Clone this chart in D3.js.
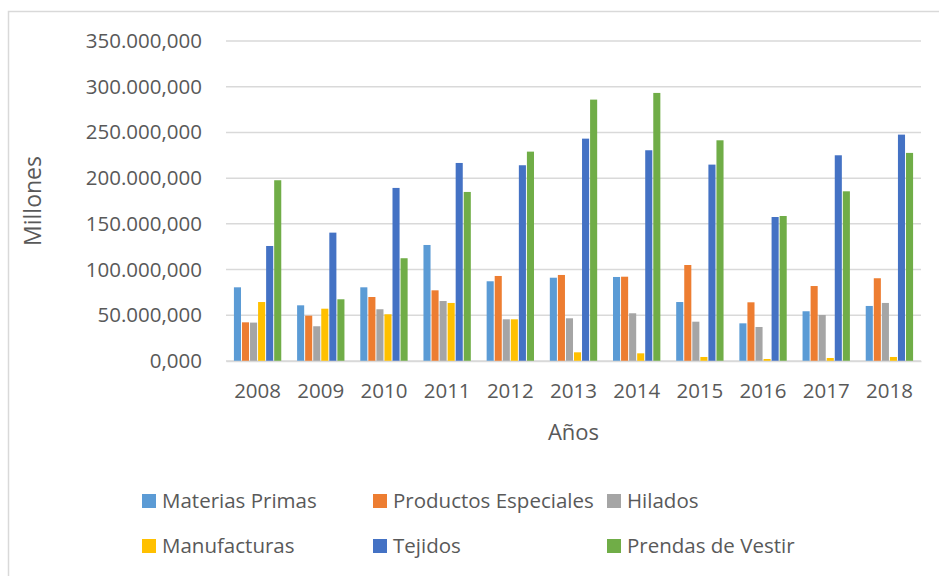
<!DOCTYPE html>
<html>
<head>
<meta charset="utf-8">
<script src="https://cdn.jsdelivr.net/npm/d3@7"></script>
<style>
  body { margin: 0; background: #fff; }
  text { font-family: "Open Sans", sans-serif; fill: #595959; }
</style>
</head>
<body>
<div id="chart"></div>
<script>
// values, in the axis unit
const years = ["2008", "2009", "2010", "2011", "2012", "2013", "2014", "2015", "2016", "2017", "2018"];
const seriesNames = ["Materias Primas", "Productos Especiales", "Hilados", "Manufacturas", "Tejidos", "Prendas de Vestir"];
const colors = ["#5b9bd5", "#ed7d31", "#a5a5a5", "#ffc000", "#4472c4", "#70ad47"];

const materiasPrimas = [80600, 60900, 80600, 126900, 87200, 91100, 91900, 64500, 41200, 54400, 60200];
const productosEspeciales = [42300, 49600, 70000, 77300, 93000, 94100, 92200, 105000, 64200, 82000, 90500];
const hilados = [42000, 38000, 56600, 65600, 45600, 46700, 52200, 43000, 37200, 50300, 63500];
const manufacturas = [64500, 57200, 51100, 63500, 45600, 9500, 8400, 4400, 2200, 3300, 4400];
const tejidos = [125800, 140400, 189300, 216600, 214100, 243200, 230500, 214800, 157500, 225000, 247600];
const prendas = [197700, 67500, 112400, 184900, 229000, 285900, 293200, 241400, 158600, 185600, 227600];

const yTicks = [0, 50000, 100000, 150000, 200000, 250000, 300000, 350000];

const seriesValues = [materiasPrimas, productosEspeciales, hilados, manufacturas, tejidos, prendas];

const W = 939, H = 576;
const margin = { top: 41, right: 18, bottom: 215, left: 226 };
const width = W - margin.left - margin.right;
const height = H - margin.top - margin.bottom;

const svg = d3.select("#chart").append("svg")
  .attr("width", W)
  .attr("height", H);

// chart frame
svg.append("rect")
  .attr("x", 8.5).attr("y", 11.5)
  .attr("width", W + 10).attr("height", H + 10)
  .attr("fill", "none")
  .attr("stroke", "#d9d9d9")
  .attr("stroke-width", 1.5);

const g = svg.append("g")
  .attr("transform", "translate(" + margin.left + "," + margin.top + ")");

const yScale = d3.scaleLinear().domain([0, 350000]).range([height, 0]);

const x0 = d3.scaleBand().domain(years).range([0, width])
  .paddingInner(0.22).paddingOuter(0.11);
const x1 = d3.scaleBand().domain(seriesNames).range([0, x0.bandwidth()])
  .padding(0.12);

const esLocale = d3.formatLocale({ decimal: ",", thousands: ".", grouping: [3], currency: ["", ""] });
const fmt = esLocale.format(",.3f");

// gridlines
g.selectAll(".grid")
  .data(yTicks)
  .enter()
  .append("line")
  .attr("class", "grid")
  .attr("x1", 0).attr("x2", width)
  .attr("y1", (d) => yScale(d)).attr("y2", (d) => yScale(d))
  .attr("stroke", "#d9d9d9")
  .attr("stroke-width", 1.5);

// y axis labels
const yAxis = d3.axisLeft(yScale).tickValues(yTicks).tickFormat(fmt).tickSize(0).tickPadding(24);
g.append("g").attr("class", "y-axis").call(yAxis)
  .call((a) => a.select(".domain").remove())
  .selectAll("text")
  .style("font-size", "20.5px")
  .style("font-family", "Open Sans, sans-serif")
  .attr("fill", "#595959");

// bars
const rows = years.map((yr, i) => ({ year: yr, values: seriesNames.map((s, j) => ({ name: s, value: seriesValues[j][i], color: colors[j] })) }));

const groups = g.selectAll(".yearGroup")
  .data(rows)
  .enter()
  .append("g")
  .attr("class", "yearGroup")
  .attr("transform", (d) => "translate(" + x0(d.year) + ",0)");

groups.selectAll("rect")
  .data((d) => d.values)
  .enter()
  .append("rect")
  .attr("x", (d) => x1(d.name))
  .attr("width", x1.bandwidth())
  .attr("y", (d) => yScale(d.value))
  .attr("height", (d) => yScale(0) - yScale(d.value))
  .attr("fill", (d) => d.color);

// x axis
const xAxis = d3.axisBottom(x0).tickSize(0).tickPadding(22);
g.append("g").attr("class", "x-axis")
  .attr("transform", "translate(0," + height + ")")
  .call(xAxis)
  .call((a) => a.select(".domain").attr("stroke", "#d9d9d9").attr("stroke-width", 1.5))
  .selectAll("text")
  .style("font-size", "20.5px")
  .style("font-family", "Open Sans, sans-serif")
  .attr("fill", "#595959");

// axis titles
svg.append("text")
  .attr("x", margin.left + width / 2)
  .attr("y", 440)
  .attr("text-anchor", "middle")
  .style("font-size", "22px")
  .text("Años");

svg.append("text")
  .attr("transform", "translate(41,201) rotate(-90)")
  .attr("text-anchor", "middle")
  .style("font-size", "23px")
  .text("Millones");

// legend
const legendPos = [
  { x: 142, y: 501 }, { x: 373, y: 501 }, { x: 607, y: 501 },
  { x: 142, y: 546 }, { x: 373, y: 546 }, { x: 607, y: 546 }
];
const legend = svg.selectAll(".legendItem")
  .data(seriesNames)
  .enter()
  .append("g")
  .attr("class", "legendItem")
  .attr("transform", (d, i) => "translate(" + legendPos[i].x + "," + legendPos[i].y + ")");

legend.append("rect")
  .attr("x", 0).attr("y", -7)
  .attr("width", 14).attr("height", 14)
  .attr("fill", (d, i) => colors[i]);

legend.append("text")
  .attr("x", 20)
  .attr("dy", "0.35em")
  .style("font-size", "20.5px")
  .text((d) => d);
</script>
</body>
</html>
